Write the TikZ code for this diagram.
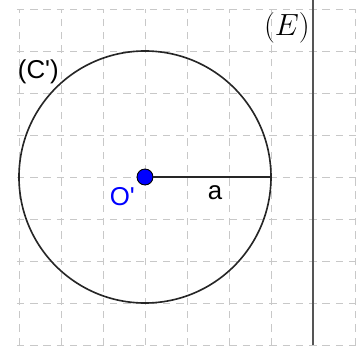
\documentclass[tikz,border=0pt]{standalone}
\usepackage{amsmath, amssymb}
\usepackage{fontspec}
\usepackage{tikz}
\newfontfamily\labelsans{Liberation Sans}
\definecolor{gridGray}{RGB}{200, 200, 200}
\definecolor{pointBlue}{RGB}{0, 0, 255}
\definecolor{lineGray}{RGB}{85, 85, 85}
\tikzset{
  sanslabel/.style={inner sep=0pt, font=\labelsans\fontsize{17.5}{20}\selectfont},
}

\begin{document}
\begin{tikzpicture}
        \useasboundingbox (-3.452,-4) rectangle (5.095,4.214);
        \draw[gridGray, line width=0.6pt, dash pattern=on 5pt off 4pt] (-3.05,-4) grid (5.1,4);
        \draw[black!85, line width=1.1pt] (0,0) circle (3);
        \draw[lineGray, line width=1.4pt] (4,-4) -- (4,4.214);
        \node[circle, fill=pointBlue, draw=black, line width=0.6pt, minimum size=0.38cm, inner sep=0pt] (O) at (0,0) {};
        \coordinate (R) at (3,0);
        \draw[black!85, line width=1.1pt] (O) -- (R);
        \node[sanslabel] (Clabel) at (-2.54,2.5) {(C\textquotesingle)};
        \node[sanslabel, text=pointBlue] (Olabel) at (-0.54,-0.47) {O\textquotesingle};
        \node[sanslabel] (alabel) at (1.67,-0.38) {a};
        \node[anchor=east, inner sep=0pt, font=\fontsize{21}{24}\selectfont] (Elabel) at (3.93,3.56) {$(E)$};
      \end{tikzpicture}
\end{document}
